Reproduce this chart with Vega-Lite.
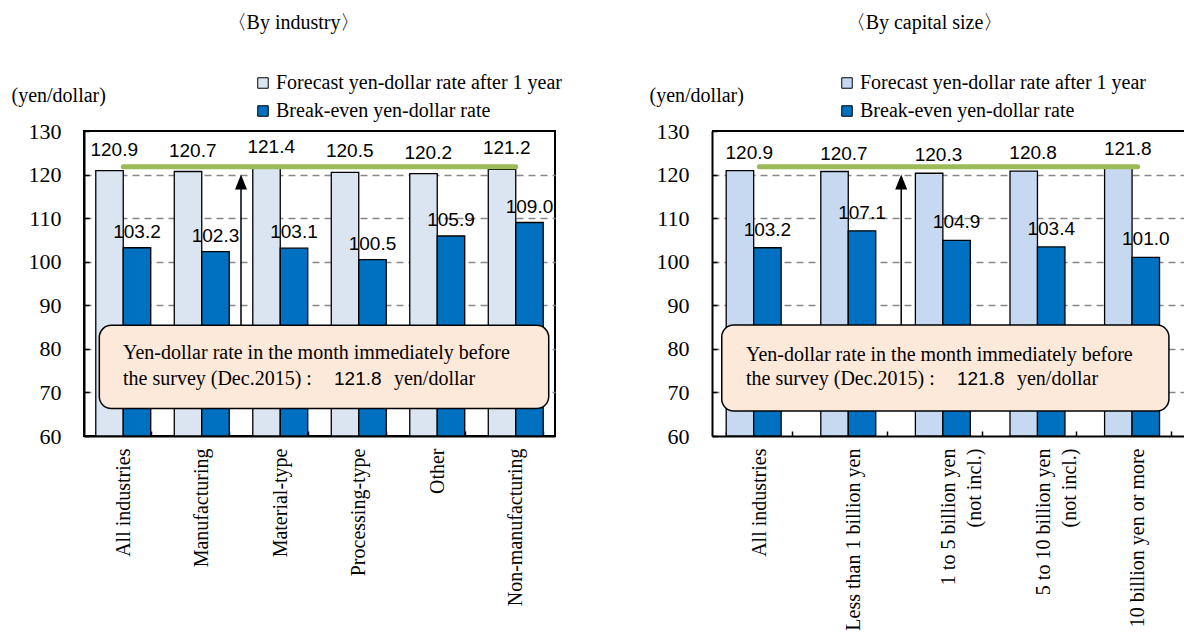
{
  "$schema": "https://vega.github.io/schema/vega-lite/v6.json",
  "background": "white",
  "padding": {"left": 10, "top": 12, "right": 0, "bottom": 0},
  "autosize": {"type": "pad"},
  "datasets": {
    "industry": [
      {"category": "All industries", "series": "Forecast yen-dollar rate after 1 year", "value": 120.9},
      {"category": "All industries", "series": "Break-even yen-dollar rate", "value": 103.2},
      {"category": "Manufacturing", "series": "Forecast yen-dollar rate after 1 year", "value": 120.7},
      {"category": "Manufacturing", "series": "Break-even yen-dollar rate", "value": 102.3},
      {"category": "Material-type", "series": "Forecast yen-dollar rate after 1 year", "value": 121.4},
      {"category": "Material-type", "series": "Break-even yen-dollar rate", "value": 103.1},
      {"category": "Processing-type", "series": "Forecast yen-dollar rate after 1 year", "value": 120.5},
      {"category": "Processing-type", "series": "Break-even yen-dollar rate", "value": 100.5},
      {"category": "Other", "series": "Forecast yen-dollar rate after 1 year", "value": 120.2},
      {"category": "Other", "series": "Break-even yen-dollar rate", "value": 105.9},
      {"category": "Non-manufacturing", "series": "Forecast yen-dollar rate after 1 year", "value": 121.2},
      {"category": "Non-manufacturing", "series": "Break-even yen-dollar rate", "value": 109.0}
    ],
    "capital": [
      {"category": "All industries", "series": "Forecast yen-dollar rate after 1 year", "value": 120.9},
      {"category": "All industries", "series": "Break-even yen-dollar rate", "value": 103.2},
      {"category": "Less than 1 billion yen", "series": "Forecast yen-dollar rate after 1 year", "value": 120.7},
      {"category": "Less than 1 billion yen", "series": "Break-even yen-dollar rate", "value": 107.1},
      {"category": "1 to 5 billion yen (not incl.)", "series": "Forecast yen-dollar rate after 1 year", "value": 120.3},
      {"category": "1 to 5 billion yen (not incl.)", "series": "Break-even yen-dollar rate", "value": 104.9},
      {"category": "5 to 10 billion yen (not incl.)", "series": "Forecast yen-dollar rate after 1 year", "value": 120.8},
      {"category": "5 to 10 billion yen (not incl.)", "series": "Break-even yen-dollar rate", "value": 103.4},
      {"category": "10 billion yen or more", "series": "Forecast yen-dollar rate after 1 year", "value": 121.8},
      {"category": "10 billion yen or more", "series": "Break-even yen-dollar rate", "value": 101.0}
    ]
  },
  "bounds": "flush",
  "spacing": 157,
  "resolve": {"scale": {"color": "independent"}, "legend": {"color": "independent"}},
  "hconcat": [
    {
      "width": 471,
      "height": 305,
      "title": {"text": "〈By industry〉", "anchor": "middle", "frame": "group", "dx": -26, "offset": 40},
      "resolve": {"scale": {"x": "independent"}, "axis": {"x": "independent"}},
      "layer": [
        {
          "data": {"name": "industry"},
          "mark": {"type": "bar", "stroke": "black", "strokeWidth": 1.3},
          "encoding": {
            "x": {"field": "category", "type": "nominal", "sort": null,
              "scale": {"paddingInner": 0.3, "paddingOuter": 0.15},
              "axis": {"title": null, "labelAngle": -90, "labelFontSize": 20, "labelPadding": 17, "labelLimit": 0, "tickBand": "extent", "tickSize": -5, "tickWidth": 1.5, "domainWidth": 2, "grid": false, "labelLineHeight": 26,
                "labelExpr": "indexof(datum.label, ' (') > 0 ? [substring(datum.label, 0, indexof(datum.label, ' (')), substring(datum.label, indexof(datum.label, ' (') + 1)] : datum.label"}},
            "xOffset": {"field": "series", "type": "nominal", "sort": null,
              "scale": {"domain": ["Forecast yen-dollar rate after 1 year", "Break-even yen-dollar rate"]}},
            "y": {"field": "value", "type": "quantitative", "scale": {"domain": [60, 130], "nice": false, "zero": false},
              "axis": {"title": "(yen/dollar)", "titleAngle": 0, "titleAlign": "left", "titleBaseline": "middle", "titleX": -73, "titleY": -36, "titleFontSize": 20, "titleFontWeight": "normal",
                "values": [60, 70, 80, 90, 100, 110, 120, 130], "labelFontSize": 22, "labelPadding": 28, "labelFlush": false, "tickSize": -5, "tickWidth": 1.5, "domainWidth": 2,
                "grid": true, "gridColor": "#888888", "gridDash": [7, 5], "gridWidth": 1.3,
                "gridOpacity": {"condition": {"test": "datum.value == 60 || datum.value == 130", "value": 0}, "value": 1}}},
            "y2": {"datum": 60},
            "color": {"field": "series", "type": "nominal", "sort": null,
              "scale": {"domain": ["Forecast yen-dollar rate after 1 year", "Break-even yen-dollar rate"], "range": ["#DBE5F1", "#0070C0"]},
              "legend": {"orient": "none", "legendX": 169, "legendY": -58}}
          }
        },
        {
          "data": {"values": [{}]},
          "mark": {"type": "rule", "stroke": "#9BBB59", "strokeWidth": 5, "strokeCap": "round"},
          "encoding": {
            "x": {"datum": 0.5, "type": "quantitative", "scale": {"domain": [0, 6], "nice": false, "zero": false}, "axis": null},
            "x2": {"datum": 5.5},
            "y": {"datum": 121.8, "type": "quantitative", "scale": {"domain": [60, 130], "nice": false, "zero": false}}
          }
        },
        {
          "data": {"name": "industry"},
          "transform": [{"filter": "datum.series == 'Forecast yen-dollar rate after 1 year'"}],
          "mark": {"type": "text", "font": "Liberation Sans", "fontSize": 19, "baseline": "middle", "dx": -9, "dy": -21, "color": "black"},
          "encoding": {
            "x": {"field": "category", "type": "nominal", "sort": null, "scale": {"paddingInner": 0.3, "paddingOuter": 0.15}, "axis": null},
            "y": {"field": "value", "type": "quantitative", "scale": {"domain": [60, 130], "nice": false, "zero": false}},
            "text": {"field": "value", "type": "quantitative", "format": ".1f"}
          }
        },
        {
          "data": {"name": "industry"},
          "transform": [{"filter": "datum.series == 'Break-even yen-dollar rate'"}],
          "mark": {"type": "text", "font": "Liberation Sans", "fontSize": 19, "baseline": "middle", "dy": -16, "color": "black"},
          "encoding": {
            "x": {"field": "category", "type": "nominal", "sort": null, "scale": {"paddingInner": 0.3, "paddingOuter": 0.15}, "axis": null},
            "xOffset": {"field": "series", "type": "nominal", "sort": null,
              "scale": {"domain": ["Forecast yen-dollar rate after 1 year", "Break-even yen-dollar rate"]}},
            "y": {"field": "value", "type": "quantitative", "scale": {"domain": [60, 130], "nice": false, "zero": false}},
            "text": {"field": "value", "type": "quantitative", "format": ".1f"}
          }
        },
        {
          "data": {"values": [{}]},
          "mark": {"type": "rect", "fill": "#FDE9D9", "stroke": "black", "strokeWidth": 1.5, "cornerRadius": 12},
          "encoding": {
            "x": {"datum": 0.195, "type": "quantitative", "scale": {"domain": [0, 6], "nice": false, "zero": false}, "axis": null},
            "x2": {"datum": 5.92},
            "y": {"datum": 85.4, "type": "quantitative", "scale": {"domain": [60, 130], "nice": false, "zero": false}},
            "y2": {"datum": 66.3}
          }
        },
        {
          "data": {"values": [{}]},
          "mark": {"type": "rule", "stroke": "black", "strokeWidth": 1.5},
          "encoding": {
            "x": {"datum": 2, "type": "quantitative", "scale": {"domain": [0, 6], "nice": false, "zero": false}, "axis": null},
            "y": {"datum": 85.4, "type": "quantitative", "scale": {"domain": [60, 130], "nice": false, "zero": false}},
            "y2": {"datum": 117.5}
          }
        },
        {
          "data": {"values": [{}]},
          "mark": {"type": "point", "shape": "M-0.8,1L0,-1L0.8,1Z", "filled": true, "color": "black", "opacity": 1, "size": 225},
          "encoding": {
            "x": {"datum": 2, "type": "quantitative", "scale": {"domain": [0, 6], "nice": false, "zero": false}, "axis": null},
            "y": {"datum": 118.3, "type": "quantitative", "scale": {"domain": [60, 130], "nice": false, "zero": false}}
          }
        },
        {
          "data": {"values": [{}]},
          "mark": {"type": "text", "align": "left", "baseline": "alphabetic", "font": "Liberation Serif", "fontSize": 20, "color": "black", "text": "Yen-dollar rate in the month immediately before"},
          "encoding": {
            "x": {"datum": 0.497, "type": "quantitative", "scale": {"domain": [0, 6], "nice": false, "zero": false}, "axis": null},
            "y": {"datum": 77.57, "type": "quantitative", "scale": {"domain": [60, 130], "nice": false, "zero": false}}
          }
        },
        {
          "data": {"values": [{}]},
          "mark": {"type": "text", "align": "left", "baseline": "alphabetic", "font": "Liberation Serif", "fontSize": 20, "color": "black", "text": "the survey (Dec.2015) :"},
          "encoding": {
            "x": {"datum": 0.497, "type": "quantitative", "scale": {"domain": [0, 6], "nice": false, "zero": false}, "axis": null},
            "y": {"datum": 71.67, "type": "quantitative", "scale": {"domain": [60, 130], "nice": false, "zero": false}}
          }
        },
        {
          "data": {"values": [{}]},
          "mark": {"type": "text", "align": "left", "baseline": "alphabetic", "font": "Liberation Sans", "fontSize": 19, "color": "black", "text": "121.8"},
          "encoding": {
            "x": {"datum": 3.185, "type": "quantitative", "scale": {"domain": [0, 6], "nice": false, "zero": false}, "axis": null},
            "y": {"datum": 71.67, "type": "quantitative", "scale": {"domain": [60, 130], "nice": false, "zero": false}}
          }
        },
        {
          "data": {"values": [{}]},
          "mark": {"type": "text", "align": "left", "baseline": "alphabetic", "font": "Liberation Serif", "fontSize": 20, "color": "black", "text": "yen/dollar"},
          "encoding": {
            "x": {"datum": 3.949, "type": "quantitative", "scale": {"domain": [0, 6], "nice": false, "zero": false}, "axis": null},
            "y": {"datum": 71.67, "type": "quantitative", "scale": {"domain": [60, 130], "nice": false, "zero": false}}
          }
        }
      ]
    },
    {
      "width": 473,
      "height": 305,
      "view": {"stroke": null},
      "title": {"text": "〈By capital size〉", "anchor": "middle", "frame": "group", "dx": -24, "offset": 40},
      "resolve": {"scale": {"x": "independent"}, "axis": {"x": "independent"}},
      "layer": [
        {
          "data": {"name": "capital"},
          "mark": {"type": "bar", "stroke": "black", "strokeWidth": 1.3},
          "encoding": {
            "x": {"field": "category", "type": "nominal", "sort": null,
              "scale": {"paddingInner": 0.3, "paddingOuter": 0.15},
              "axis": {"title": null, "labelAngle": -90, "labelFontSize": 20, "labelPadding": 17, "labelLimit": 0, "tickBand": "extent", "tickSize": -5, "tickWidth": 1.5, "domainWidth": 2, "grid": false, "labelLineHeight": 26,
                "labelExpr": "indexof(datum.label, ' (') > 0 ? [substring(datum.label, 0, indexof(datum.label, ' (')), substring(datum.label, indexof(datum.label, ' (') + 1)] : datum.label"}},
            "xOffset": {"field": "series", "type": "nominal", "sort": null,
              "scale": {"domain": ["Forecast yen-dollar rate after 1 year", "Break-even yen-dollar rate"]}},
            "y": {"field": "value", "type": "quantitative", "scale": {"domain": [60, 130], "nice": false, "zero": false},
              "axis": {"title": "(yen/dollar)", "titleAngle": 0, "titleAlign": "left", "titleBaseline": "middle", "titleX": -63, "titleY": -36, "titleFontSize": 20, "titleFontWeight": "normal",
                "values": [60, 70, 80, 90, 100, 110, 120, 130], "labelFontSize": 22, "labelPadding": 28, "labelFlush": false, "tickSize": -5, "tickWidth": 1.5, "domainWidth": 2,
                "grid": true, "gridColor": "#888888", "gridDash": [7, 5], "gridWidth": 1.3,
                "gridOpacity": {"condition": {"test": "datum.value == 60 || datum.value == 130", "value": 0}, "value": 1}}},
            "y2": {"datum": 60},
            "color": {"field": "series", "type": "nominal", "sort": null,
              "scale": {"domain": ["Forecast yen-dollar rate after 1 year", "Break-even yen-dollar rate"], "range": ["#C6D9F1", "#0070C0"]},
              "legend": {"orient": "none", "legendX": 125, "legendY": -58}}
          }
        },
        {
          "data": {"values": [{}]},
          "mark": {"type": "rule", "stroke": "black", "strokeWidth": 2},
          "encoding": {
            "y": {"datum": 130, "type": "quantitative", "scale": {"domain": [60, 130], "nice": false, "zero": false}}
          }
        },
        {
          "data": {"values": [{}]},
          "mark": {"type": "rule", "stroke": "#9BBB59", "strokeWidth": 5, "strokeCap": "round"},
          "encoding": {
            "x": {"datum": 0.5, "type": "quantitative", "scale": {"domain": [0, 5], "nice": false, "zero": false}, "axis": null},
            "x2": {"datum": 4.5},
            "y": {"datum": 121.8, "type": "quantitative", "scale": {"domain": [60, 130], "nice": false, "zero": false}}
          }
        },
        {
          "data": {"name": "capital"},
          "transform": [{"filter": "datum.series == 'Forecast yen-dollar rate after 1 year'"}],
          "mark": {"type": "text", "font": "Liberation Sans", "fontSize": 19, "baseline": "middle", "dx": -10, "dy": -18, "color": "black"},
          "encoding": {
            "x": {"field": "category", "type": "nominal", "sort": null, "scale": {"paddingInner": 0.3, "paddingOuter": 0.15}, "axis": null},
            "y": {"field": "value", "type": "quantitative", "scale": {"domain": [60, 130], "nice": false, "zero": false}},
            "text": {"field": "value", "type": "quantitative", "format": ".1f"}
          }
        },
        {
          "data": {"name": "capital"},
          "transform": [{"filter": "datum.series == 'Break-even yen-dollar rate'"}],
          "mark": {"type": "text", "font": "Liberation Sans", "fontSize": 19, "baseline": "middle", "dy": -18, "color": "black"},
          "encoding": {
            "x": {"field": "category", "type": "nominal", "sort": null, "scale": {"paddingInner": 0.3, "paddingOuter": 0.15}, "axis": null},
            "xOffset": {"field": "series", "type": "nominal", "sort": null,
              "scale": {"domain": ["Forecast yen-dollar rate after 1 year", "Break-even yen-dollar rate"]}},
            "y": {"field": "value", "type": "quantitative", "scale": {"domain": [60, 130], "nice": false, "zero": false}},
            "text": {"field": "value", "type": "quantitative", "format": ".1f"}
          }
        },
        {
          "data": {"values": [{}]},
          "mark": {"type": "rect", "fill": "#FDE9D9", "stroke": "black", "strokeWidth": 1.5, "cornerRadius": 12},
          "encoding": {
            "x": {"datum": 0.103, "type": "quantitative", "scale": {"domain": [0, 5], "nice": false, "zero": false}, "axis": null},
            "x2": {"datum": 4.83},
            "y": {"datum": 85.5, "type": "quantitative", "scale": {"domain": [60, 130], "nice": false, "zero": false}},
            "y2": {"datum": 65.73}
          }
        },
        {
          "data": {"values": [{}]},
          "mark": {"type": "rule", "stroke": "black", "strokeWidth": 1.5},
          "encoding": {
            "x": {"datum": 2, "type": "quantitative", "scale": {"domain": [0, 5], "nice": false, "zero": false}, "axis": null},
            "y": {"datum": 85.5, "type": "quantitative", "scale": {"domain": [60, 130], "nice": false, "zero": false}},
            "y2": {"datum": 117.5}
          }
        },
        {
          "data": {"values": [{}]},
          "mark": {"type": "point", "shape": "M-0.8,1L0,-1L0.8,1Z", "filled": true, "color": "black", "opacity": 1, "size": 225},
          "encoding": {
            "x": {"datum": 2, "type": "quantitative", "scale": {"domain": [0, 5], "nice": false, "zero": false}, "axis": null},
            "y": {"datum": 118.3, "type": "quantitative", "scale": {"domain": [60, 130], "nice": false, "zero": false}}
          }
        },
        {
          "data": {"values": [{}]},
          "mark": {"type": "text", "align": "left", "baseline": "alphabetic", "font": "Liberation Serif", "fontSize": 20, "color": "black", "text": "Yen-dollar rate in the month immediately before"},
          "encoding": {
            "x": {"datum": 0.359, "type": "quantitative", "scale": {"domain": [0, 5], "nice": false, "zero": false}, "axis": null},
            "y": {"datum": 77.32, "type": "quantitative", "scale": {"domain": [60, 130], "nice": false, "zero": false}}
          }
        },
        {
          "data": {"values": [{}]},
          "mark": {"type": "text", "align": "left", "baseline": "alphabetic", "font": "Liberation Serif", "fontSize": 20, "color": "black", "text": "the survey (Dec.2015) :"},
          "encoding": {
            "x": {"datum": 0.359, "type": "quantitative", "scale": {"domain": [0, 5], "nice": false, "zero": false}, "axis": null},
            "y": {"datum": 71.6, "type": "quantitative", "scale": {"domain": [60, 130], "nice": false, "zero": false}}
          }
        },
        {
          "data": {"values": [{}]},
          "mark": {"type": "text", "align": "left", "baseline": "alphabetic", "font": "Liberation Sans", "fontSize": 19, "color": "black", "text": "121.8"},
          "encoding": {
            "x": {"datum": 2.59, "type": "quantitative", "scale": {"domain": [0, 5], "nice": false, "zero": false}, "axis": null},
            "y": {"datum": 71.6, "type": "quantitative", "scale": {"domain": [60, 130], "nice": false, "zero": false}}
          }
        },
        {
          "data": {"values": [{}]},
          "mark": {"type": "text", "align": "left", "baseline": "alphabetic", "font": "Liberation Serif", "fontSize": 20, "color": "black", "text": "yen/dollar"},
          "encoding": {
            "x": {"datum": 3.224, "type": "quantitative", "scale": {"domain": [0, 5], "nice": false, "zero": false}, "axis": null},
            "y": {"datum": 71.6, "type": "quantitative", "scale": {"domain": [60, 130], "nice": false, "zero": false}}
          }
        }
      ]
    }
  ],
  "config": {
    "font": "Liberation Serif",
    "view": {"stroke": "black", "strokeWidth": 2},
    "scale": {"offsetBandPaddingInner": 0, "offsetBandPaddingOuter": 0},
    "axis": {"labelColor": "black", "titleColor": "black", "domainColor": "black", "tickColor": "black", "labelFont": "Liberation Serif", "titleFont": "Liberation Serif"},
    "legend": {"title": null, "symbolType": "square", "symbolSize": 110, "symbolStrokeColor": "black", "symbolStrokeWidth": 1, "labelFont": "Liberation Serif", "labelFontSize": 20, "labelColor": "black", "rowPadding": 8, "labelOffset": 3, "padding": 0, "labelLimit": 0},
    "title": {"font": "Liberation Serif", "fontSize": 20, "fontWeight": "normal", "color": "black"}
  }
}
